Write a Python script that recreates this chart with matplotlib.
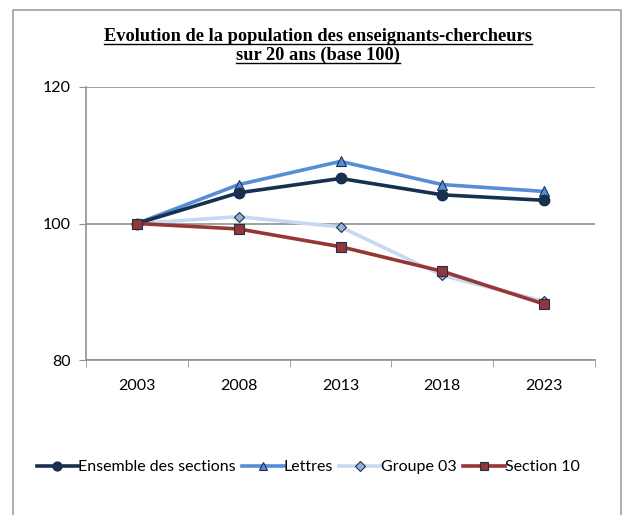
import numpy as np
import matplotlib.pyplot as plt

years = ['2003', '2008', '2013', '2018', '2023']
ensemble = [100, 104.5, 106.6, 104.2, 103.4]
lettres = [100, 105.7, 109.1, 105.7, 104.7]
groupe03 = [100, 101.0, 99.5, 92.4, 88.6]
section10 = [100, 99.2, 96.6, 93.0, 88.2]

plt.rcParams['font.family'] = ['Lato', 'DejaVu Sans']

fig = plt.figure(figsize=(6.27, 5.15), dpi=100)
W, H = 627, 515
ax = fig.add_axes([86 / W, 1 - 360 / H, (595 - 86) / W, (360 - 87) / H])

# outer frame (no bottom edge visible)
fig.add_artist(plt.Line2D([13 / W, 13 / W, 621 / W, 621 / W],
                          [0, 1 - 10 / H, 1 - 10 / H, 0],
                          transform=fig.transFigure, color='#A0A0A0', lw=1.2))

x = np.arange(len(years))
edge = '#1F3050'
ax.plot(x, ensemble, color='#17304F', lw=2.6, marker='o', ms=7.5,
        mfc='#17304F', mec='#17304F', label='Ensemble des sections', zorder=4)
ax.plot(x, lettres, color='#558ED5', lw=2.6, marker='^', ms=7.5,
        mfc='#558ED5', mec=edge, mew=0.8, label='Lettres', zorder=3)
ax.plot(x, groupe03, color='#C6D9F1', lw=2.6, marker='D', ms=5.5,
        mfc='#95B3D7', mec=edge, mew=0.8, label='Groupe 03', zorder=2)
ax.plot(x, section10, color='#953735', lw=2.6, marker='s', ms=7.5,
        mfc='#953735', mec=edge, mew=0.8, label='Section 10', zorder=5)

ax.set_xlim(-0.5, len(years) - 0.5)
ax.set_ylim(80, 120)
ax.set_yticks([80, 100, 120])
ax.set_xticks(x)
ax.set_xticklabels(years)
ax.set_xticks(np.arange(len(years) + 1) - 0.5, minor=True)
ax.tick_params(axis='x', which='major', length=0, pad=14, labelsize=11.5)
ax.tick_params(axis='x', which='minor', length=5, color='#909090', direction='out')
ax.tick_params(axis='y', length=5, color='#909090', labelsize=11.5, pad=6)
ax.yaxis.grid(True, color='#909090', lw=1.2)
ax.set_axisbelow(True)
for s in ['top', 'right']:
    ax.spines[s].set_visible(False)
for s in ['left', 'bottom']:
    ax.spines[s].set_color('#909090')
    ax.spines[s].set_linewidth(1.2)

t1 = fig.text(318 / W, 1 - 36 / H, 'Evolution de la population des enseignants-chercheurs',
              ha='center', va='center', family='Liberation Serif', weight='bold', size=13.2)
t2 = fig.text(318 / W, 1 - 55 / H, 'sur 20 ans (base 100)',
              ha='center', va='center', family='Liberation Serif', weight='bold', size=13.2)

# underline the title lines, using the text extents
fig.canvas.draw()
r = fig.canvas.get_renderer()
for t, y in [(t1, 44), (t2, 63)]:
    bb = t.get_window_extent(r)
    fig.add_artist(plt.Line2D([bb.x0 / W, bb.x1 / W], [1 - y / H] * 2,
                              transform=fig.transFigure, color='black', lw=1.0))

fig.legend(loc='center', bbox_to_anchor=(308 / W, 1 - 467 / H), ncol=4, frameon=False,
           fontsize=11.5, handlelength=2.6, handletextpad=0.0, columnspacing=0.4,
           markerscale=0.85)

fig.savefig('out.png', dpi=100)
